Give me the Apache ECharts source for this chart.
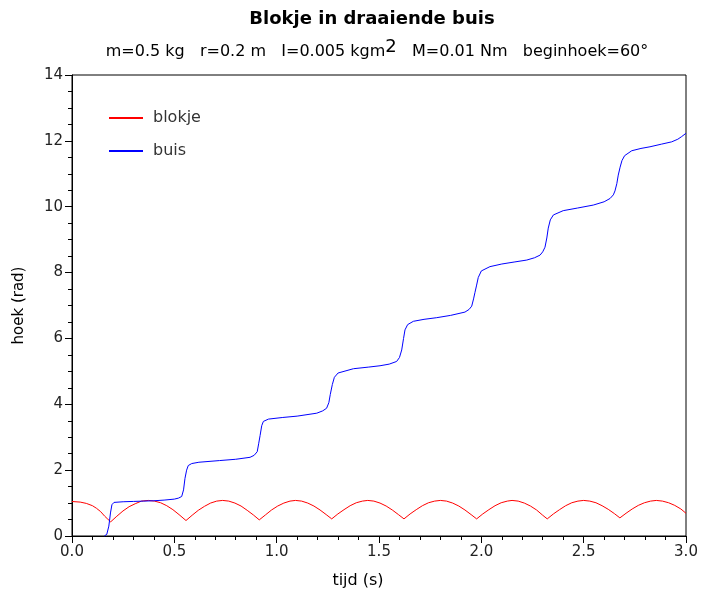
<!DOCTYPE html>
<html>
<head>
<meta charset="utf-8">
<script src="https://cdn.jsdelivr.net/npm/echarts@6/dist/echarts.min.js"></script>
<style>html,body{margin:0;padding:0;background:#fff}#c{width:701px;height:592px}</style>
</head>
<body>
<div id="c"></div>
<script>
const titleText = 'Blokje in draaiende buis';
const xName = 'tijd (s)';
const yName = 'hoek (rad)';
const seriesNames = ['blokje', 'buis'];

const blokjeT = [0, 0.04, 0.07, 0.10, 0.12, 0.14, 0.16, 0.175, 0.189,
  0.219, 0.249, 0.279, 0.309, 0.339, 0.373, 0.403, 0.433, 0.463, 0.493, 0.523, 0.557,
  0.587, 0.617, 0.647, 0.677, 0.707, 0.736, 0.766, 0.796, 0.826, 0.856, 0.886, 0.915,
  0.945, 0.975, 1.005, 1.035, 1.065, 1.092, 1.122, 1.152, 1.182, 1.212, 1.242, 1.269,
  1.299, 1.329, 1.359, 1.389, 1.419, 1.445, 1.475, 1.505, 1.535, 1.565, 1.595, 1.622,
  1.652, 1.682, 1.712, 1.742, 1.772, 1.80, 1.83, 1.86, 1.89, 1.92, 1.95, 1.977,
  2.007, 2.037, 2.067, 2.097, 2.127, 2.15, 2.18, 2.21, 2.24, 2.27, 2.30, 2.322,
  2.352, 2.382, 2.412, 2.442, 2.472, 2.50, 2.53, 2.56, 2.59, 2.62, 2.65, 2.677,
  2.707, 2.737, 2.767, 2.797, 2.827, 2.855, 2.885, 2.915, 2.945, 2.975, 3.0];
const blokjeV = [1.047, 1.03, 0.99, 0.92, 0.84, 0.74, 0.60, 0.51, 0.43,
  0.60, 0.76, 0.89, 0.98, 1.06, 1.08, 1.06, 1.01, 0.92, 0.80, 0.65, 0.47,
  0.63, 0.78, 0.90, 1.00, 1.06, 1.08, 1.06, 1.00, 0.91, 0.78, 0.64, 0.49,
  0.64, 0.79, 0.91, 1.00, 1.06, 1.08, 1.06, 1.00, 0.91, 0.79, 0.65, 0.52,
  0.67, 0.80, 0.92, 1.01, 1.06, 1.08, 1.06, 1.00, 0.91, 0.79, 0.65, 0.52,
  0.67, 0.80, 0.92, 1.01, 1.06, 1.08, 1.06, 1.00, 0.91, 0.79, 0.65, 0.52,
  0.67, 0.80, 0.92, 1.01, 1.06, 1.08, 1.06, 1.00, 0.91, 0.79, 0.63, 0.52,
  0.67, 0.80, 0.92, 1.01, 1.06, 1.08, 1.06, 1.01, 0.92, 0.81, 0.68, 0.55,
  0.69, 0.82, 0.93, 1.01, 1.06, 1.08, 1.06, 1.01, 0.93, 0.82, 0.69];

const buisT = [0.158, 0.170, 0.180, 0.188, 0.195, 0.205, 0.25, 0.30, 0.35, 0.40, 0.45, 0.50, 0.52, 0.536,
  0.545, 0.552, 0.56, 0.568, 0.585, 0.62, 0.72, 0.80, 0.87, 0.89, 0.905, 0.912, 0.919, 0.927, 0.935,
  0.96, 1.03, 1.10, 1.196, 1.225, 1.244, 1.255, 1.262, 1.272, 1.282, 1.30, 1.375, 1.45, 1.505, 1.55,
  1.586, 1.60, 1.611, 1.62, 1.627, 1.64, 1.668, 1.72, 1.782, 1.85, 1.92, 1.94, 1.953, 1.962, 1.969,
  1.977, 1.985, 2.0, 2.042, 2.10, 2.16, 2.222, 2.26, 2.287, 2.30, 2.311, 2.32, 2.327, 2.337, 2.352,
  2.40, 2.47, 2.547, 2.60, 2.629, 2.645, 2.653, 2.662, 2.669, 2.678, 2.687, 2.70, 2.735, 2.78, 2.824,
  2.88, 2.93, 2.96, 2.979, 3.0];
const buisV = [0.0, 0.05, 0.3, 0.7, 0.95, 1.02, 1.04, 1.05, 1.06, 1.07, 1.09, 1.12, 1.15, 1.2,
  1.4, 1.75, 2.0, 2.14, 2.2, 2.24, 2.29, 2.33, 2.39, 2.45, 2.56, 2.8, 3.05, 3.35, 3.48,
  3.55, 3.6, 3.64, 3.73, 3.8, 3.88, 4.05, 4.3, 4.6, 4.82, 4.95, 5.08, 5.13, 5.17, 5.22,
  5.3, 5.42, 5.65, 6.0, 6.26, 6.42, 6.52, 6.58, 6.63, 6.7, 6.8, 6.88, 6.98, 7.2, 7.4,
  7.62, 7.85, 8.05, 8.18, 8.26, 8.32, 8.38, 8.45, 8.53, 8.63, 8.77, 9.05, 9.35, 9.6, 9.75,
  9.88, 9.96, 10.05, 10.15, 10.25, 10.36, 10.48, 10.7, 10.96, 11.2, 11.4, 11.55, 11.7, 11.77, 11.82,
  11.9, 11.97, 12.05, 12.13, 12.23];

const FONT = '"DejaVu Sans", sans-serif';
const chart = echarts.init(document.getElementById('c'), null, {renderer: 'canvas'});
const pairs = (t, v) => t.map((x, i) => [x, v[i]]);

chart.setOption({
  animation: false,
  backgroundColor: '#fff',
  title: [
    {text: titleText, left: 367, top: 5, textAlign: 'center',
     textStyle: {fontFamily: FONT, fontSize: 18, fontWeight: 'bold', color: '#000'}},
    {text: '{a|m=0.5 kg   r=0.2 m   I=0.005 kgm}{s|2}{a|   M=0.01 Nm   beginhoek=60°}',
     left: 372, top: 33, textAlign: 'center',
     textStyle: {fontFamily: FONT, fontSize: 16, fontWeight: 'normal', color: '#000',
       rich: {a: {fontFamily: FONT, fontSize: 16, fontWeight: 'normal', color: '#000'},
              s: {fontFamily: FONT, fontSize: 18, fontWeight: 'normal', color: '#000', padding: [0, 0, 10, 0]}}}}
  ],
  legend: {
    orient: 'vertical', left: 108, top: 110, padding: 0, itemWidth: 34, itemHeight: 14, itemGap: 17,
    data: seriesNames,
    itemStyle: {opacity: 0},
    textStyle: {fontFamily: FONT, fontSize: 16, color: '#333', lineHeight: 14, padding: [0, 0, 0, 5]}
  },
  grid: {left: 72, right: 15, top: 75, bottom: 56, show: true, borderColor: '#000', borderWidth: 1,
    containLabel: false, outerBoundsMode: 'none'},
  xAxis: {
    type: 'value', min: 0, max: 3, interval: 0.5,
    name: xName, nameLocation: 'middle', nameGap: 37,
    nameTextStyle: {fontFamily: FONT, fontSize: 16, color: '#000', padding: [0, 42, 0, 0]},
    axisLine: {show: true, lineStyle: {color: '#000', width: 1}},
    axisTick: {show: true, length: 7, lineStyle: {color: '#000'}},
    minorTick: {show: true, splitNumber: 5, length: 4, lineStyle: {color: '#000'}},
    splitLine: {show: false},
    axisLabel: {fontFamily: FONT, fontSize: 15, color: '#222', margin: 9,
      formatter: v => v.toFixed(1)}
  },
  yAxis: {
    type: 'value', min: 0, max: 14, interval: 2,
    name: yName, nameLocation: 'middle', nameGap: 45, nameRotate: 90,
    nameTextStyle: {fontFamily: FONT, fontSize: 15, color: '#000', padding: [10, 0, 0, 0]},
    axisLine: {show: true, lineStyle: {color: '#000', width: 1}},
    axisTick: {show: true, length: 7, lineStyle: {color: '#000'}},
    minorTick: {show: true, splitNumber: 4, length: 4, lineStyle: {color: '#000'}},
    splitLine: {show: false},
    axisLabel: {fontFamily: FONT, fontSize: 15, color: '#222', margin: 9}
  },
  series: [
    {name: seriesNames[0], type: 'line', data: pairs(blokjeT, blokjeV), symbol: 'none',
     lineStyle: {color: '#ff0000', width: 1}, itemStyle: {color: '#ff0000'}, clip: true},
    {name: seriesNames[1], type: 'line', data: pairs(buisT, buisV), symbol: 'none',
     lineStyle: {color: '#0000ff', width: 1}, itemStyle: {color: '#0000ff'}, clip: true}
  ]
});
</script>
</body>
</html>
